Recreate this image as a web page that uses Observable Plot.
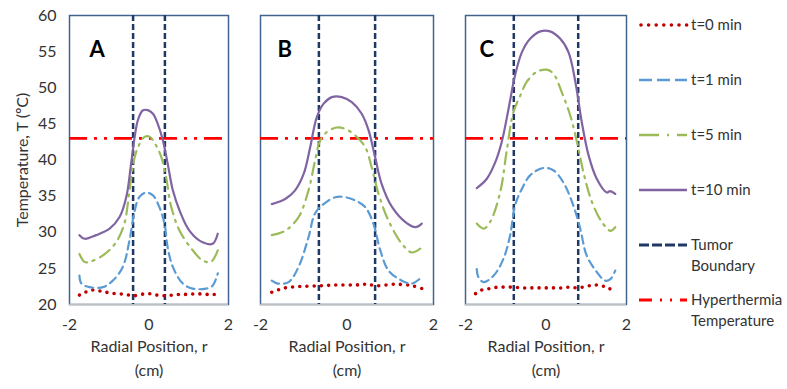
<!DOCTYPE html>
<html>
<head>
<meta charset="utf-8">
<script src="https://cdn.jsdelivr.net/npm/d3@7"></script>
<script src="https://cdn.jsdelivr.net/npm/@observablehq/plot@0.6"></script>
<style>
  html, body { margin: 0; padding: 0; background: #fff; }
  #chart { position: relative; width: 787px; height: 389px; font-family: Lato, "Open Sans", sans-serif; }
  #chart > * { position: absolute; top: 0; }
</style>
</head>
<body>
<div id="chart"></div>
<script>
// ---- data (radial position r in cm, temperature in °C) ----
const panels = ["A", "B", "C"];
const seriesNames = ["t=0 min", "t=1 min", "t=5 min", "t=10 min"];
const xTicks = [-2, 0, 2];
const yTicks = [20, 25, 30, 35, 40, 45, 50, 55, 60];
const hyperthermiaT = 43;
const tumorA = [-0.4, 0.4];
const tumorB = [-0.65, 0.65];
const tumorC = [-0.8, 0.8];

const A_t0 = [[-1.75,21.3],[-1.6,21.7],[-1.45,22.0],[-1.3,21.9],[-1.15,21.8],[-1.0,21.6],[-0.8,21.5],[-0.6,21.4],[-0.4,21.2],[-0.2,21.4],[0,21.5],[0.2,21.3],[0.4,21.2],[0.6,21.3],[0.8,21.4],[1.0,21.4],[1.2,21.5],[1.4,21.4],[1.6,21.4],[1.73,21.3]];
const A_t1 = [[-1.75,24.0],[-1.7,22.9],[-1.5,22.4],[-1.16,22.4],[-0.91,23.3],[-0.66,25.2],[-0.49,28.9],[-0.36,33.0],[-0.24,34.9],[-0.07,35.5],[0.1,35.1],[0.26,33.5],[0.39,31.2],[0.47,27.9],[0.6,25.2],[0.85,22.9],[1.1,22.2],[1.43,22.2],[1.6,22.6],[1.73,24.3]];
const A_t5 = [[-1.75,27.0],[-1.62,25.9],[-1.5,25.9],[-1.16,26.8],[-0.83,28.6],[-0.62,31.2],[-0.49,35.8],[-0.36,40.4],[-0.24,42.2],[-0.11,43.2],[0.02,43.2],[0.18,42.0],[0.31,40.4],[0.43,37.6],[0.56,33.5],[0.77,30.2],[1.1,27.5],[1.35,26.1],[1.56,25.9],[1.73,27.5]];
const A_t10 = [[-1.75,29.6],[-1.62,29.1],[-1.33,29.6],[-0.99,30.5],[-0.74,32.1],[-0.57,34.9],[-0.45,39.5],[-0.36,43.2],[-0.28,45.5],[-0.16,46.85],[-0.03,46.9],[0.1,46.4],[0.22,45.0],[0.35,42.7],[0.47,39.5],[0.6,35.8],[0.77,33.0],[1.02,30.2],[1.35,28.6],[1.6,28.4],[1.73,29.8]];

const B_t0 = [[-1.74,21.7],[-1.43,22.3],[-1.05,22.5],[-0.6,22.6],[-0.2,22.7],[0.2,22.7],[0.45,22.8],[0.7,22.6],[1.11,22.8],[1.5,22.6],[1.73,22.2]];
const B_t1 = [[-1.74,23.3],[-1.6,22.9],[-1.35,23.1],[-1.12,25.2],[-0.89,29.3],[-0.74,32.6],[-0.54,33.9],[-0.27,34.85],[-0.04,34.85],[0.19,34.4],[0.42,33.5],[0.61,31.2],[0.77,27.5],[0.96,24.7],[1.27,23.3],[1.5,22.9],[1.73,23.8]];
const B_t5 = [[-1.74,29.6],[-1.43,30.2],[-1.12,32.1],[-0.89,35.8],[-0.74,39.9],[-0.62,42.7],[-0.47,43.85],[-0.24,44.5],[-0.04,44.3],[0.19,43.4],[0.42,41.8],[0.57,39.0],[0.73,35.3],[0.96,31.6],[1.27,28.4],[1.5,27.2],[1.73,27.9]];
const B_t10 = [[-1.74,33.9],[-1.43,34.6],[-1.2,35.8],[-1.0,38.1],[-0.85,41.8],[-0.7,45.9],[-0.54,47.8],[-0.35,48.7],[-0.12,48.7],[0.11,48.0],[0.34,46.4],[0.5,44.1],[0.65,40.4],[0.8,36.7],[1.04,33.5],[1.35,31.4],[1.58,30.7],[1.73,31.2]];

const C_t0 = [[-1.75,21.5],[-1.6,22.0],[-1.4,22.2],[-1.2,22.4],[-1.0,22.4],[-0.8,22.4],[-0.6,22.3],[-0.4,22.3],[-0.2,22.3],[0,22.3],[0.2,22.3],[0.4,22.3],[0.6,22.4],[0.8,22.3],[1.0,22.5],[1.2,22.7],[1.35,22.6],[1.55,22.3],[1.72,21.5]];
const C_t1 = [[-1.72,24.9],[-1.68,23.8],[-1.55,23.1],[-1.3,24.0],[-1.06,26.3],[-0.89,29.6],[-0.77,33.7],[-0.6,36.0],[-0.39,37.9],[-0.06,38.9],[0.19,38.55],[0.43,36.9],[0.68,33.7],[0.85,30.5],[1.01,26.8],[1.26,24.5],[1.47,23.3],[1.6,23.5],[1.72,24.7]];
const C_t5 = [[-1.72,31.2],[-1.55,30.5],[-1.39,31.4],[-1.14,35.5],[-0.97,41.5],[-0.81,46.6],[-0.64,48.9],[-0.48,50.8],[-0.23,52.2],[0.02,52.5],[0.19,51.9],[0.39,49.4],[0.6,46.2],[0.77,42.5],[0.93,38.3],[1.14,34.2],[1.39,31.4],[1.6,30.2],[1.72,30.7]];
const C_t10 = [[-1.72,36.1],[-1.47,37.4],[-1.26,39.7],[-1.1,42.5],[-0.93,47.1],[-0.77,51.7],[-0.6,54.9],[-0.39,56.8],[-0.14,57.8],[0.1,57.8],[0.35,56.8],[0.56,54.9],[0.73,50.8],[0.89,45.2],[1.06,40.6],[1.26,37.4],[1.51,35.5],[1.59,35.7],[1.72,35.3]];

const legendLabels = ["t=0 min", "t=1 min", "t=5 min", "t=10 min", "Tumor\nBoundary", "Hyperthermia\nTemperature"];

// ---- styles ----
const FONT = "Lato, 'Open Sans', sans-serif";
const styles = {
  t0:  {stroke: "#c00000", strokeWidth: 3.6, strokeDasharray: "0 7.2", strokeLinecap: "round"},
  t1:  {stroke: "#5b9bd5", strokeWidth: 2.2, strokeDasharray: "8 5"},
  t5:  {stroke: "#9bbb59", strokeWidth: 2.2, strokeDasharray: "12 6 2 6"},
  t10: {stroke: "#8064a2", strokeWidth: 2.2},
  tumor: {stroke: "#1f3864", strokeWidth: 2.5, strokeDasharray: "6 3"},
  hyper: {stroke: "#ff0000", strokeWidth: 2.6, strokeDasharray: "18 7 3 7 3 7"}
};

const chart = document.getElementById("chart");

function panel(cfg) {
  const {label, series, tumor, width, left, marginLeft, marginRight, showY, labelDx} = cfg;
  const marks = [
    Plot.frame({stroke: "#41648f", strokeWidth: 1.5}),
    Plot.ruleY([20], {stroke: "#bfbfbf", strokeWidth: 1.5}),
    Plot.axisX(xTicks, {tickSize: 0, tickPadding: 14, tickFormat: d => String(d), fontSize: 16, fill: "#333", label: null}),
    Plot.ruleX(tumor, {x: d => d, ...styles.tumor}),
    Plot.ruleY([hyperthermiaT], {y: d => d, ...styles.hyper}),
    Plot.line(series[0], {x: "0", y: "1", curve: "catmull-rom", ...styles.t0}),
    Plot.line(series[1], {x: "0", y: "1", curve: "catmull-rom", ...styles.t1}),
    Plot.line(series[2], {x: "0", y: "1", curve: "catmull-rom", ...styles.t5}),
    Plot.line(series[3], {x: "0", y: "1", curve: "catmull-rom", ...styles.t10}),
    Plot.text([label], {frameAnchor: "top-left", text: d => d, dx: labelDx, dy: 26, textAnchor: "start", fontSize: 22, fontWeight: "bold", fill: "#000"}),
    Plot.text(["Radial Position, r\n(cm)"], {frameAnchor: "bottom", text: d => d, dy: 52, textAnchor: "middle", lineAnchor: "middle", lineHeight: 1.45, fontSize: 16, fill: "#333"})
  ];
  if (showY) {
    marks.push(Plot.axisY(yTicks, {tickSize: 0, tickPadding: 13, fontSize: 16, fill: "#333", label: null}));
    marks.push(Plot.text(["Temperature, T (ºC)"], {frameAnchor: "left", text: d => d, rotate: -90, textAnchor: "middle", dx: -47, fontSize: 16, fill: "#333"}));
  }
  const svg = Plot.plot({
    width, height: 389,
    marginLeft, marginRight, marginTop: 15, marginBottom: 85,
    style: {fontFamily: FONT, fontSize: "16px", color: "#333", background: "transparent", overflow: "visible"},
    x: {domain: [-2, 2], axis: null},
    y: {domain: [20, 60], axis: null},
    marks
  });
  svg.style.left = left + "px";
  chart.appendChild(svg);
}

panel({label: "A", series: [A_t0, A_t1, A_t5, A_t10], tumor: tumorA, width: 240, left: 0, marginLeft: 69, marginRight: 12, showY: true, labelDx: 20});
panel({label: "B", series: [B_t0, B_t1, B_t5, B_t10], tumor: tumorB, width: 205, left: 240, marginLeft: 20, marginRight: 12, showY: false, labelDx: 17});
panel({label: "C", series: [C_t0, C_t1, C_t5, C_t10], tumor: tumorC, width: 195, left: 445, marginLeft: 20, marginRight: 14, showY: false, labelDx: 14});

// ---- legend ----
const legendStyles = [
  {stroke: "#c00000", strokeWidth: 3.6, dash: "0 7.6", cap: "round"},
  {stroke: "#5b9bd5", strokeWidth: 2.4, dash: "13 5"},
  {stroke: "#9bbb59", strokeWidth: 2.6, dash: "20 8 2 8"},
  {stroke: "#8064a2", strokeWidth: 2.6, dash: null},
  {stroke: "#1f3864", strokeWidth: 2.8, dash: "10 3"},
  {stroke: "#ff0000", strokeWidth: 2.8, dash: "13 8 2 8 2 8"}
];
const legendY = [25, 80, 135, 190, 245, 300];
const leg = d3.create("svg").attr("width", 157).attr("height", 389).style("left", "630px")
  .style("font-family", FONT).style("font-size", "15px");
legendLabels.forEach((lab, i) => {
  const s = legendStyles[i];
  const ln = leg.append("line").attr("x1", i === 0 ? 11 : 9).attr("x2", 57)
    .attr("y1", legendY[i]).attr("y2", legendY[i])
    .attr("stroke", s.stroke).attr("stroke-width", s.strokeWidth);
  if (s.dash) ln.attr("stroke-dasharray", s.dash);
  if (s.cap) ln.attr("stroke-linecap", s.cap);
  const t = leg.append("text").attr("x", 61).attr("y", legendY[i]).attr("fill", "#333");
  lab.split("\n").forEach((part, j) => {
    t.append("tspan").attr("x", 61).attr("dy", j === 0 ? "0.35em" : "1.35em").text(part);
  });
});
chart.appendChild(leg.node());
</script>
</body>
</html>
